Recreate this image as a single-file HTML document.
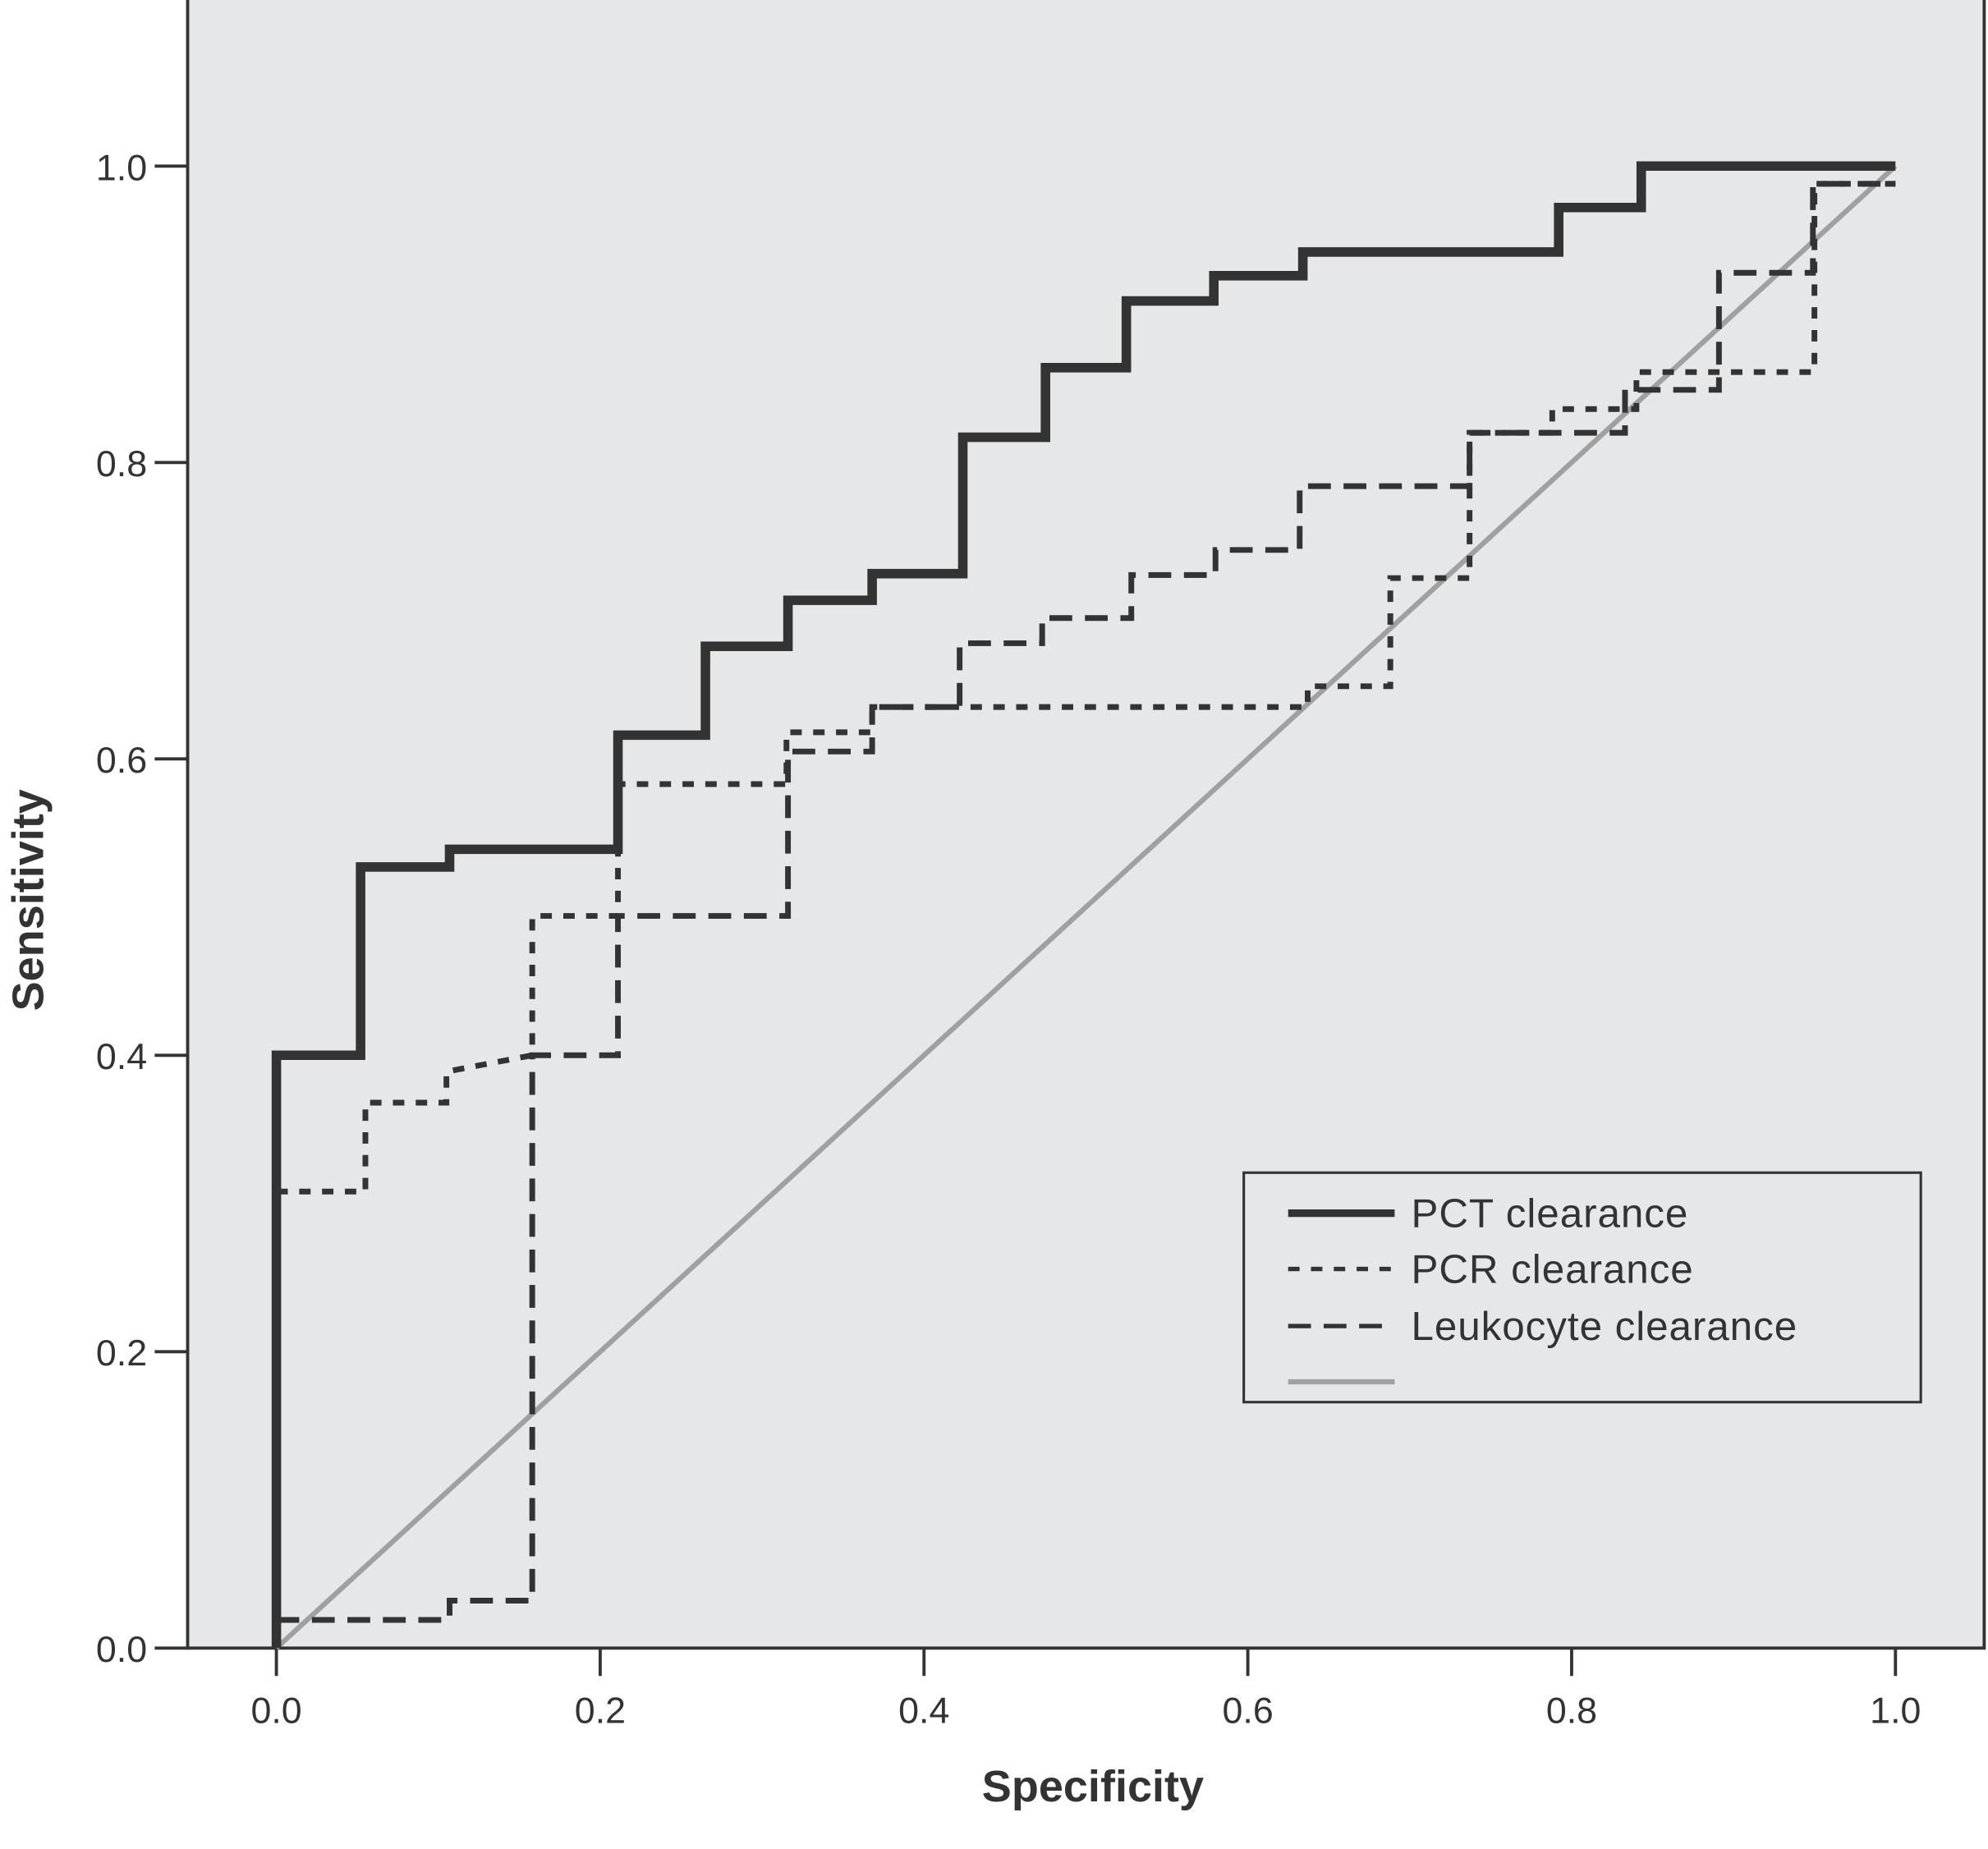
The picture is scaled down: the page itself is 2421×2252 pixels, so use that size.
<!DOCTYPE html>
<html><head><meta charset="utf-8"><style>
html,body{margin:0;padding:0;background:#fff;}
svg{display:block;}
text{font-family:"Liberation Sans",Arial,sans-serif;fill:#333;}
</style></head><body>
<svg id="chart" width="2421" height="2252" viewBox="0 0 1568 1458.5" preserveAspectRatio="none" xmlns="http://www.w3.org/2000/svg">
<rect x="148" y="0" width="1417" height="1300" fill="#e6e7e9"/>
<g id="axes"></g>
<g id="series"></g>
<g>
<rect x="981" y="925" width="534" height="181" fill="#e6e7e9" stroke="#333" stroke-width="2"/>
<line x1="1016" y1="957" x2="1100" y2="957" stroke="#333" stroke-width="6"/>
<text x="1113" y="968" font-size="32" letter-spacing="0.6">PCT clearance</text>
<line x1="1016" y1="1001" x2="1100" y2="1001" stroke="#333" stroke-width="3.5" stroke-dasharray="9,9"/>
<text x="1113" y="1012" font-size="32" letter-spacing="0.6">PCR clearance</text>
<line x1="1016" y1="1046" x2="1100" y2="1046" stroke="#333" stroke-width="3.5" stroke-dasharray="18,10"/>
<text x="1113" y="1057" font-size="32" letter-spacing="0.6">Leukocyte clearance</text>
<line x1="1016" y1="1090" x2="1100" y2="1090" stroke="#a0a0a0" stroke-width="4"/>
</g>
<text x="862" y="1421" font-size="35" font-weight="bold" text-anchor="middle">Specificity</text>
<text transform="translate(34,710) rotate(-90)" font-size="35" font-weight="bold" text-anchor="middle">Sensitivity</text>
</svg>
<script>
const ticks = [0, 0.2, 0.4, 0.6, 0.8, 1.0];
const tickLabels = ["0.0", "0.2", "0.4", "0.6", "0.8", "1.0"];
const pctX = [0, 0, 0.052, 0.052, 0.107, 0.107, 0.211, 0.211, 0.265, 0.265, 0.316, 0.316, 0.368, 0.368, 0.424, 0.424, 0.475, 0.475, 0.525, 0.525, 0.579, 0.579, 0.634, 0.634, 0.792, 0.792, 0.843, 0.843, 1.0];
const pctY = [0, 0.4, 0.4, 0.527, 0.527, 0.539, 0.539, 0.616, 0.616, 0.676, 0.676, 0.707, 0.707, 0.725, 0.725, 0.817, 0.817, 0.864, 0.864, 0.909, 0.909, 0.926, 0.926, 0.942, 0.942, 0.972, 0.972, 1.0, 1.0];
const pcrX = [0, 0.055, 0.055, 0.105, 0.105, 0.158, 0.158, 0.211, 0.211, 0.315, 0.315, 0.368, 0.368, 0.637, 0.637, 0.688, 0.688, 0.737, 0.737, 0.788, 0.788, 0.84, 0.84, 0.95, 0.95, 1.0];
const pcrY = [0.308, 0.308, 0.368, 0.368, 0.389, 0.40, 0.494, 0.494, 0.583, 0.583, 0.618, 0.618, 0.635, 0.635, 0.649, 0.649, 0.722, 0.722, 0.820, 0.820, 0.836, 0.836, 0.861, 0.861, 0.988, 0.988];
const leuX = [0, 0.107, 0.107, 0.158, 0.158, 0.211, 0.211, 0.316, 0.316, 0.368, 0.368, 0.422, 0.422, 0.473, 0.473, 0.528, 0.528, 0.58, 0.58, 0.632, 0.632, 0.737, 0.737, 0.833, 0.833, 0.891, 0.891, 0.949, 0.949, 1.0];
const leuY = [0.019, 0.019, 0.032, 0.032, 0.40, 0.40, 0.494, 0.494, 0.605, 0.605, 0.635, 0.635, 0.678, 0.678, 0.695, 0.695, 0.724, 0.724, 0.741, 0.741, 0.784, 0.784, 0.820, 0.820, 0.849, 0.849, 0.928, 0.928, 0.988, 0.988];
const refX = [0, 1];
const refY = [0, 1];

const NS = "http://www.w3.org/2000/svg";
const X = v => 218 + v * 1277;
const Y = v => 1300 - v * 1169;
const axes = document.getElementById('axes');
const series = document.getElementById('series');
function mk(tag, attrs, parent) {
  const e = document.createElementNS(NS, tag);
  for (const k in attrs) e.setAttribute(k, attrs[k]);
  parent.appendChild(e);
  return e;
}
let frame = mk('path', {d: 'M148,0 V1300 H1565 V0', fill: 'none', stroke: '#333', 'stroke-width': 2.5}, axes);


ticks.forEach((t, i) => {
  let a = mk('line', {x1: 122, x2: 148, y1: Y(t), y2: Y(t), stroke: '#333', 'stroke-width': 2.5}, axes);
  
  
  let b = mk('text', {x: 116, y: Y(t) + 11, 'font-size': 29, 'text-anchor': 'end'}, axes);
  b.textContent = tickLabels[i];
  
  
  let c = mk('line', {x1: X(t), x2: X(t), y1: 1300, y2: 1322, stroke: '#333', 'stroke-width': 2.5}, axes);
  
  
  let d = mk('text', {x: X(t), y: 1359, 'font-size': 29, 'text-anchor': 'middle'}, axes);
  d.textContent = tickLabels[i];
  
  
});
function line(xs, ys, attrs, name) {
  const pts = xs.map((x, i) => X(x).toFixed(1) + ',' + Y(ys[i]).toFixed(1)).join(' ');
  const p = mk('polyline', Object.assign({points: pts, fill: 'none'}, attrs), series);
  
  
}
line(refX, refY, {stroke: '#a0a0a0', 'stroke-width': 4}, 'reference-line');
line(leuX, leuY, {stroke: '#333', 'stroke-width': 4.5, 'stroke-dasharray': '18,10'}, 'leukocyte-curve');
line(pcrX, pcrY, {stroke: '#333', 'stroke-width': 4.5, 'stroke-dasharray': '9,9'}, 'pcr-curve');
line(pctX, pctY, {stroke: '#333', 'stroke-width': 7.5, 'stroke-linejoin': 'miter'}, 'pct-curve');
</script>
</body></html>
